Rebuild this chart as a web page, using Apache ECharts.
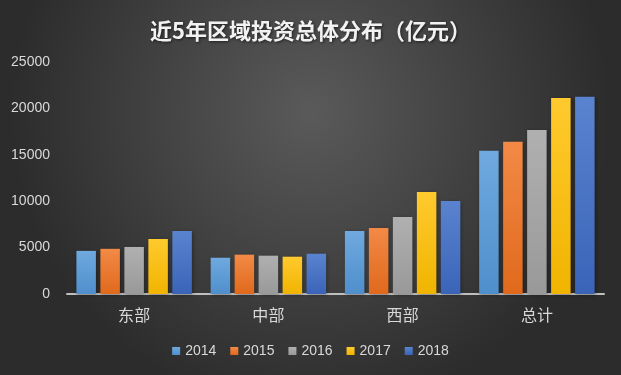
<!DOCTYPE html>
<html><head><meta charset="utf-8">
<script src="https://cdn.jsdelivr.net/npm/echarts@6/dist/echarts.min.js"></script>
<style>html,body{margin:0;padding:0;}#c{width:621px;height:375px;}</style>
</head><body><div id="c"></div>
<script>
var categories = ['东部', '中部', '西部', '总计'];
var years = ['2014', '2015', '2016', '2017', '2018'];
var v2014 = [4650, 3910, 6790, 15440];
var v2015 = [4870, 4240, 7110, 16410];
var v2016 = [5070, 4130, 8300, 17670];
var v2017 = [5930, 4020, 10990, 21120];
var v2018 = [6790, 4340, 10020, 21260];
var yTicks = [0, 5000, 10000, 15000, 20000, 25000];
var titleText = '近5年区域投资总体分布（亿元）';

var seriesValues = [v2014, v2015, v2016, v2017, v2018];
var colors = [['#6fa9df', '#4f8fcc'], ['#f28a46', '#e0691c'], ['#b0b0b0', '#999999'], ['#ffca2e', '#f0b400'], ['#5a83cf', '#3a64b8']];

var chart = echarts.init(document.getElementById('c'));
chart.setOption({
  backgroundColor: {
    type: 'radial', x: 0.5, y: 0.3, r: 0.8,
    colorStops: [{offset: 0, color: '#5a5a5a'}, {offset: 1, color: '#2c2c2c'}]
  },
  animation: false,
  title: {
    text: titleText, left: 'center', top: 15,
    textStyle: {color: '#f2f2f2', fontSize: 22, fontWeight: 'bold', fontFamily: 'Noto Sans CJK SC',
      textShadowColor: 'rgba(0,0,0,0.6)', textShadowBlur: 3, textShadowOffsetX: 1, textShadowOffsetY: 1}
  },
  legend: {
    data: years, bottom: 12, left: 'center', itemWidth: 8, itemHeight: 8, itemGap: 14,
    icon: 'rect',
    textStyle: {color: '#d9d9d9', fontSize: 14, fontFamily: 'Liberation Sans'}
  },
  grid: {left: 67, right: 17, top: 62, bottom: 81},
  xAxis: {
    type: 'category', data: categories,
    axisLine: {lineStyle: {color: '#bfbfbf', width: 2}},
    axisTick: {show: false},
    axisLabel: {color: '#d9d9d9', fontSize: 16, margin: 13, fontFamily: 'Noto Sans CJK SC'}
  },
  yAxis: {
    type: 'value', min: yTicks[0], max: yTicks[yTicks.length - 1], interval: 5000,
    axisLine: {show: false}, axisTick: {show: false}, splitLine: {show: false},
    axisLabel: {color: '#d9d9d9', fontSize: 14, margin: 17, fontFamily: 'Liberation Sans',
      formatter: function (v) { return String(v); }}
  },
  series: years.map(function (y, i) {
    return {
      name: y, type: 'bar', data: seriesValues[i],
      barCategoryGap: '14%', barGap: '23%',
      itemStyle: {
        color: {type: 'linear', x: 0, y: 0, x2: 0, y2: 1,
          colorStops: [{offset: 0, color: colors[i][0]}, {offset: 1, color: colors[i][1]}]},
        shadowColor: 'rgba(0,0,0,0.35)', shadowBlur: 4, shadowOffsetX: 1, shadowOffsetY: 1
      }
    };
  })
});
</script>
</body></html>
